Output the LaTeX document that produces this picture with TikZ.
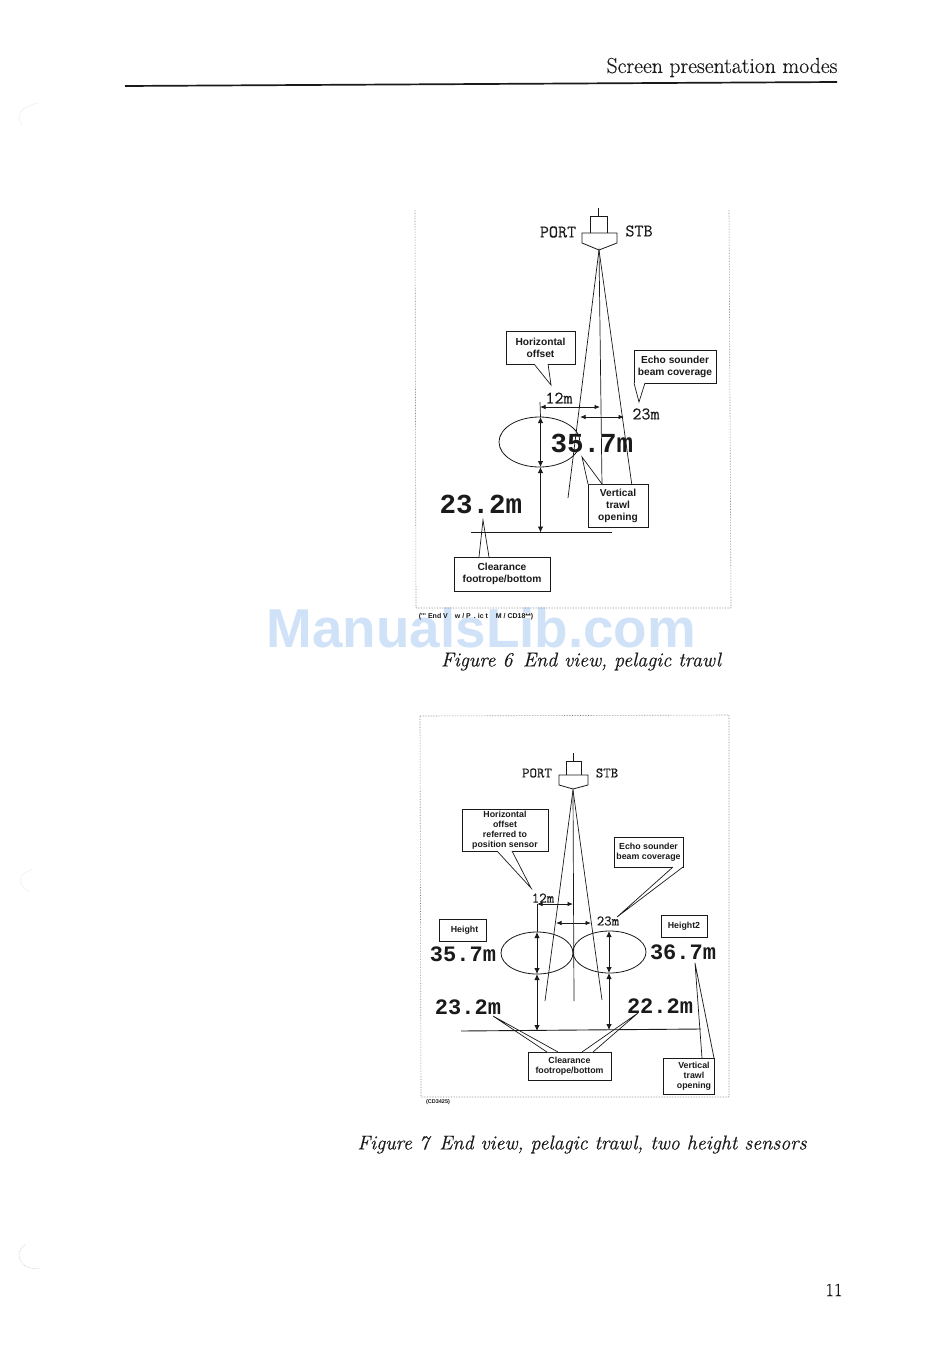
\documentclass[tikz,border=0pt]{standalone}
\usepackage{fontspec}
\usepackage{xcolor}
\usetikzlibrary{arrows.meta,shapes.geometric}
\newfontfamily\boxfont{Liberation Sans}
\newfontfamily\readfont{Liberation Mono}
\newfontfamily\thinfont{Latin Modern Mono}[FakeBold=0.2]
\newfontfamily\pagefont{Latin Modern Roman}[FakeBold=0.4]
\definecolor{wmark}{HTML}{CFE2F7}
\definecolor{framegray}{HTML}{808080}
\definecolor{inkblack}{HTML}{1A1A1A}
\tikzset{
  lbox/.style={draw=inkblack, line width=0.9pt, fill=white, align=center, font=\boxfont\bfseries\fontsize{10.2}{12}\selectfont, inner sep=0pt, text=inkblack},
  lboxs/.style={lbox, font=\boxfont\bfseries\fontsize{8.8}{10.2}\selectfont},
  ptr/.style={draw=inkblack, line width=0.7pt, fill=white},
  beam/.style={draw=inkblack, line width=0.7pt},
  ship/.style={draw=inkblack, line width=0.8pt, fill=white},
  trawl/.style={draw=inkblack, line width=0.8pt, ellipse, inner sep=0pt},
  farr/.style={{Latex[length=6pt,width=5.5pt]}-{Latex[length=6pt,width=5.5pt]}, draw=inkblack, line width=0.8pt},
  harr/.style={{Latex[length=5.5pt,width=4.5pt]}-{Latex[length=5.5pt,width=4.5pt]}, draw=inkblack, line width=0.8pt},
  bline/.style={draw=inkblack, line width=0.9pt},
  frm/.style={draw=framegray, line width=0.6pt, densely dotted},
  thin1/.style={font=\thinfont\fontsize{17.6}{18}\selectfont, text=inkblack, inner sep=0pt},
  thin2/.style={font=\thinfont\fontsize{14.5}{15}\selectfont, text=inkblack, inner sep=0pt},
  big1/.style={font=\readfont\bfseries\fontsize{27.5}{28}\selectfont, text=inkblack, inner sep=0pt},
  big2/.style={font=\readfont\bfseries\fontsize{22}{23}\selectfont, text=inkblack, inner sep=0pt},
  capt/.style={font=\pagefont\itshape\fontsize{20}{21}\selectfont, text=inkblack, inner sep=0pt},
  tiny1/.style={font=\boxfont\bfseries\fontsize{5.5}{6}\selectfont, text=inkblack, inner sep=0pt},
  smudge/.style={draw=gray!40, line width=0.7pt, densely dotted}
}

\begin{document}
\begin{tikzpicture}[x=1pt,y=-1pt]
\useasboundingbox (0,0) rectangle (950,1363);
\fill[white] (0,0) rectangle (950,1363);

% page head
\node[font=\pagefont\fontsize{21.7}{23}\selectfont, text=inkblack, inner sep=0pt] (head) at (722,67.5) {Screen presentation modes};
\coordinate (ruleL) at (125,86);
\coordinate (ruleR) at (837,82);
\draw[inkblack, line width=1.7pt] (ruleL) -- (ruleR);
\node[font=\pagefont\fontsize{18.5}{19}\selectfont, text=inkblack, inner sep=0pt] (pageno) at (834,1290) {11};

% marks left by the scan
\draw[smudge] (25,1245) .. controls (14,1250) and (18,1272) .. (40,1268);
\draw[smudge, draw=gray!20] (38,103) .. controls (22,106) and (14,116) .. (22,124);
\draw[smudge, draw=gray!20] (32,870) .. controls (20,872) and (14,884) .. (30,892);

% watermark
\node[font=\boxfont\bfseries\fontsize{54.8}{56}\selectfont, text=wmark, inner sep=0pt] (wm) at (481.5,628) {ManualsLib.com};

% figure 6 frame
\coordinate (f6a) at (415,210); \coordinate (f6b) at (416,608);
\coordinate (f6c) at (731,608); \coordinate (f6d) at (729,210);
\draw[frm] (f6a) -- (f6b) -- (f6c) -- (f6d);

% figure 6 ship
\draw[ship] (598.5,208) -- (598.5,216);
\draw[ship] (590.5,233) rectangle (607,216);
\draw[ship] (582,233) -- (617,233) -- (617,243) -- (599,250) -- (582,243) -- cycle;
\node[thin1] (port6) at (558,232) {PORT};
\node[thin1] (stb6) at (639,231) {STB};

% figure 6 beam
\coordinate (tip6) at (599,250);
\coordinate (bl6) at (568,498); \coordinate (bc6) at (602,486); \coordinate (br6) at (632,486);
\draw[beam] (bl6) -- (tip6) -- (br6);
\draw[beam] (tip6) -- (bc6);

% figure 6 trawl and distances
\node[trawl, minimum width=81pt, minimum height=50pt] (net6) at (539.5,442) {};
\coordinate (t6) at (540.5,417); \coordinate (m6) at (540.5,467);
\coordinate (g6a) at (471,532.5); \coordinate (g6b) at (612,532.5); \coordinate (g6) at (540.5,532.5);
\draw[farr] (t6) -- (m6);
\draw[farr] (m6) -- (g6);
\coordinate (h1a) at (540,407); \coordinate (h1b) at (600,407);
\coordinate (h2a) at (580,417); \coordinate (h2b) at (624,417);
\draw[beam] (540,402) -- (t6);
\draw[harr] (h1a) -- (h1b);
\draw[harr] (h2a) -- (h2b);
\node[thin1] (d12a) at (559,398) {12m};
\node[thin1] (d23a) at (646,414) {23m};

% figure 6 labels
\node[big1] (v357a) at (592,443) {35.7m};
\node[big1] (v232a) at (481,504.5) {23.2m};
\node[lbox, minimum width=69pt, minimum height=33pt] (hoff6) at (540.5,347.5) {Horizontal\\offset};
\node[lbox, minimum width=82pt, minimum height=33pt] (echo6) at (675,366.5) {Echo sounder\\beam coverage};
\node[lbox, minimum width=60pt, minimum height=43pt] (vert6) at (618,505.5) {Vertical\\trawl\\opening};
\node[lbox, minimum width=96pt, minimum height=34pt] (clr6) at (502,574) {Clearance\\footrope/bottom};
\coordinate (p1a) at (534,364); \coordinate (p1t) at (551,385); \coordinate (p1b) at (548,364);
\coordinate (p2a) at (634,383); \coordinate (p2t) at (639,402); \coordinate (p2b) at (645,383);
\coordinate (p3a) at (588,484); \coordinate (p3t) at (582,457); \coordinate (p3b) at (602,484);
\coordinate (p4a) at (479,557); \coordinate (p4t) at (483,520); \coordinate (p4b) at (489,557);
\draw[ptr] (p1a) -- (p1t) -- (p1b);
\draw[ptr] (p2a) -- (p2t) -- (p2b);
\draw[ptr] (p3a) -- (p3t) -- (p3b);
\draw[ptr] (p4a) -- (p4t) -- (p4b);
\draw[bline] (g6a) -- (g6b);
\node[tiny1, font=\boxfont\bfseries\fontsize{7}{7}\selectfont] (src6) at (476,617) {('''\hspace{2pt}End V\hspace{7pt}w / P\hspace{3pt}.\hspace{2pt}ic t\hspace{8pt}M / CD18**)};
\node[capt] (cap6) at (581,661.5) {Figure 6\, End view, pelagic trawl};

% figure 7 frame
\coordinate (f7a) at (420,716); \coordinate (f7b) at (421,1097);
\coordinate (f7c) at (729,1097); \coordinate (f7d) at (729,715);
\draw[frm] (f7a) -- (f7b) -- (f7c) -- (f7d) -- (f7a);

% figure 7 ship
\draw[ship] (573,753) -- (573,761);
\draw[ship] (566,775) rectangle (581,761);
\draw[ship] (559,775) -- (588,775) -- (588,785) -- (573,789) -- (559,785) -- cycle;
\node[thin2] (port7) at (537,773) {PORT};
\node[thin2] (stb7) at (607,773) {STB};

% figure 7 beam
\coordinate (tip7) at (573,790);
\coordinate (bl7) at (545,1001); \coordinate (bc7) at (574,1001); \coordinate (br7) at (602,1000);
\draw[beam] (bl7) -- (tip7) -- (br7);
\draw[beam] (tip7) -- (bc7);

% figure 7 trawls and distances
\node[trawl, minimum width=72pt, minimum height=42pt] (net7a) at (537,953) {};
\node[trawl, minimum width=73pt, minimum height=42pt] (net7b) at (609.5,952) {};
\coordinate (t7a) at (537,932); \coordinate (m7a) at (537,974); \coordinate (g7a) at (537,1031);
\coordinate (t7b) at (609,931); \coordinate (m7b) at (609,973); \coordinate (g7b) at (609,1030);
\coordinate (g7l) at (461,1031); \coordinate (g7r) at (701,1029);
\draw[farr] (t7a) -- (m7a);
\draw[farr] (m7a) -- (g7a);
\draw[farr] (t7b) -- (m7b);
\draw[farr] (m7b) -- (g7b);
\coordinate (h3a) at (537,904); \coordinate (h3b) at (573,904);
\coordinate (h4a) at (556,923); \coordinate (h4b) at (591,923);
\draw[beam] (h3a) -- (t7a);
\draw[harr] (h3a) -- (h3b);
\draw[harr] (h4a) -- (h4b);
\node[thin2] (d12b) at (543,898) {12m};
\node[thin2] (d23b) at (608,921) {23m};

% figure 7 labels
\node[big2] (v357b) at (463,954) {35.7m};
\node[big2] (v367b) at (683,952) {36.7m};
\node[big2] (v232b) at (468,1007) {23.2m};
\node[big2] (v222b) at (660,1006) {22.2m};
\node[lboxs, minimum width=47pt, minimum height=22pt] (hgt1) at (463,930) {\hspace*{3pt}Height};
\node[lboxs, minimum width=46pt, minimum height=22pt] (hgt2) at (684,926) {Height2};
\node[lboxs, font=\boxfont\bfseries\fontsize{8.8}{9.9}\selectfont, minimum width=86pt, minimum height=42pt] (hoff7) at (505,830) {Horizontal\\offset\\referred to\\position sensor};
\node[lboxs, minimum width=69pt, minimum height=30pt] (echo7) at (648.5,852) {Echo sounder\\beam coverage};
\node[lboxs, minimum width=83pt, minimum height=28pt] (clr7) at (569.5,1066) {Clearance\\footrope/bottom};
\node[lboxs, minimum width=51pt, minimum height=36pt] (vert7) at (688.5,1076) {\hspace*{11pt}Vertical\\\hspace*{11pt}trawl\\\hspace*{11pt}opening};
\coordinate (q1a) at (497,851); \coordinate (q1t) at (531,888); \coordinate (q1b) at (512,851);
\coordinate (q2a) at (673,867); \coordinate (q2t) at (617,917); \coordinate (q2b) at (683,867);
\coordinate (q3a) at (547,1052); \coordinate (q3t) at (493,1016); \coordinate (q3b) at (558,1052);
\coordinate (q4a) at (582,1052); \coordinate (q4t) at (638,1013); \coordinate (q4b) at (593,1052);
\coordinate (q5a) at (702,1058); \coordinate (q5t) at (695,963); \coordinate (q5b) at (714,1058);
\draw[ptr] (q1a) -- (q1t) -- (q1b);
\draw[ptr] (q2a) -- (q2t) -- (q2b);
\draw[ptr] (q3a) -- (q3t) -- (q3b);
\draw[ptr] (q4a) -- (q4t) -- (q4b);
\draw[ptr, fill=none] (q5a) -- (q5t) -- (q5b);
\draw[bline] (g7l) -- (g7r);
\node[tiny1] (src7) at (438,1102) {(CD3425)};
\node[capt] (cap7) at (582,1144.5) {Figure 7\, End view, pelagic trawl, two height sensors};
\end{tikzpicture}
\end{document}
